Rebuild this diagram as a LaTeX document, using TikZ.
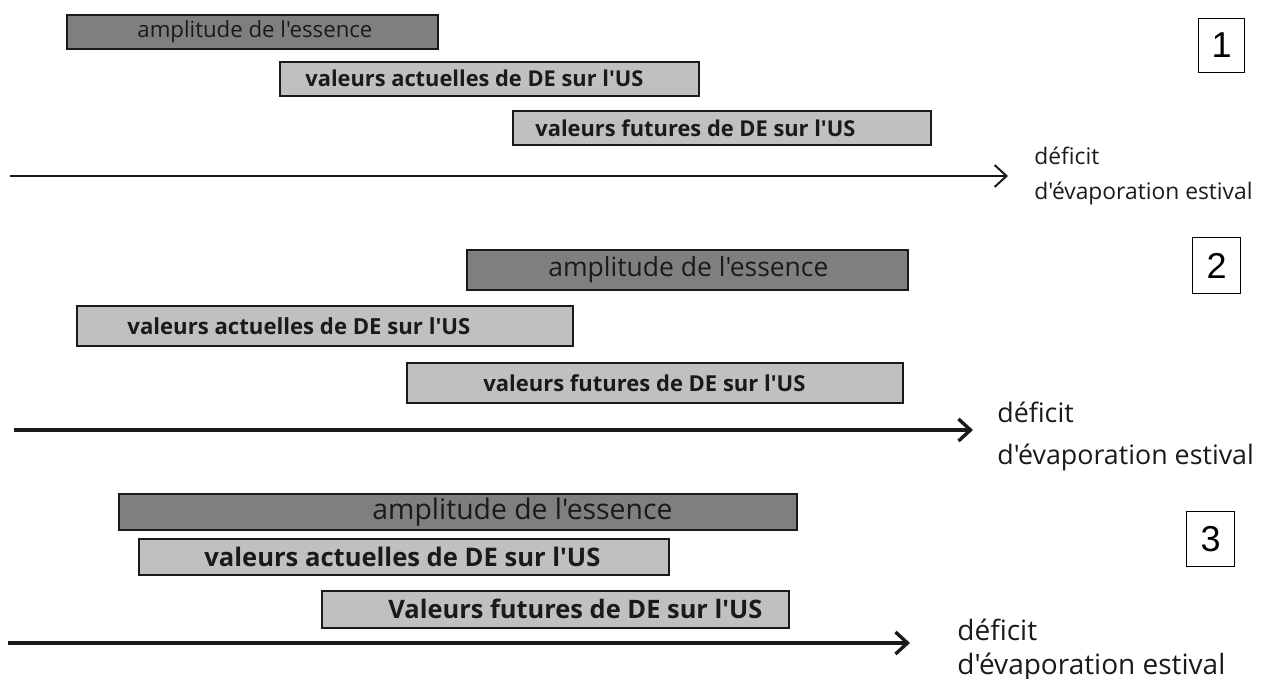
\documentclass[tikz,border=0pt]{standalone}
\usepackage{fontspec}
\newfontfamily\osans{Open Sans}
\newfontfamily\numfont{Liberation Sans}
\usetikzlibrary{arrows.meta}
\definecolor{darkfill}{HTML}{7F7F7F}
\definecolor{lightfill}{HTML}{C0C0C0}
\definecolor{ink}{HTML}{1A1A1A}
\newlength\fitlen
\newcommand{\fitw}[2]{\pgfmathsetlength\fitlen{#1*0.5pt}\resizebox{\fitlen}{!}{#2}}
% box: name, style, x1, y1, x2, y2 (pixels)
\newcommand{\mybox}[6]{\node[#2, minimum width={(#5-#3)*0.5pt}, minimum height={(#6-#4)*0.5pt}] (#1) at (#3,#4) {};}
% text in box: name, box, offset px, width px, font, text
\newcommand{\btxt}[6]{\node[boxtxt] (#1) at ([xshift={#3*0.5pt}]#2.west) {\fitw{#4}{#5#6}};}
\tikzset{
  darkbox/.style={draw=ink, line width=0.8pt, fill=darkfill, inner sep=0pt, anchor=north west},
  lightbox/.style={draw=ink, line width=0.8pt, fill=lightfill, inner sep=0pt, anchor=north west},
  boxtxt/.style={inner sep=0pt, anchor=west, text=ink, font=\osans},
  numbox/.style={draw=black, line width=0.5pt, fill=white, inner sep=0pt, anchor=north west, font=\numfont\fontsize{18pt}{20pt}\selectfont},
  lbl/.style={inner sep=0pt, anchor=west, align=left, text=ink},
  axisthin/.style={draw=ink, line width=1pt, -{Straight Barb[length=6pt,width=11pt,line width=1pt]}},
  axisthick/.style={draw=ink, line width=1.7pt, -{Straight Barb[length=6pt,width=11pt,line width=1.7pt]}},
}
\begin{document}
\begin{tikzpicture}[x=0.5pt,y=-0.5pt]
\useasboundingbox (0,0) rectangle (1268,679);
% ---------- panel 1
\mybox{pa1}{darkbox}{66}{14}{437}{48}
\mybox{pb1}{lightbox}{279}{61}{698}{95}
\mybox{pc1}{lightbox}{512}{110}{930}{144}
\btxt{ta1}{pa1}{71}{235}{}{amplitude de l'essence}
\btxt{tb1}{pb1}{26}{338}{\bfseries}{valeurs actuelles de DE sur l'US}
\btxt{tc1}{pc1}{23}{320}{\bfseries}{valeurs futures de DE sur l'US}
\node[numbox, minimum width=23pt, minimum height=27pt] (n1) at (1198,18) {1};
\coordinate (s1) at (10,176);
\coordinate (e1) at (1008,176);
\draw[axisthin] (s1) -- (e1);
\node[lbl, font=\osans\fontsize{11.4pt}{17.5pt}\selectfont] (l1) at (1034,176) {déficit\\d'évaporation estival};
% ---------- panel 2
\mybox{pa2}{darkbox}{466}{249}{907}{289}
\mybox{pb2}{lightbox}{76}{305}{572}{345}
\mybox{pc2}{lightbox}{406}{362}{902}{402}
\btxt{ta2}{pa2}{82}{280}{}{amplitude de l'essence}
\btxt{tb2}{pb2}{51}{343}{\bfseries}{valeurs actuelles de DE sur l'US}
\btxt{tc2}{pc2}{77}{322}{\bfseries}{valeurs futures de DE sur l'US}
\node[numbox, minimum width=24pt, minimum height=28pt] (n2) at (1192,237) {2};
\coordinate (s2) at (14,430);
\coordinate (e2) at (973,430);
\draw[axisthick] (s2) -- (e2);
\node[lbl, font=\osans\fontsize{13.4pt}{21pt}\selectfont] (l2) at (997,436) {déficit\\d'évaporation estival};
% ---------- panel 3
\mybox{pa3}{darkbox}{118}{493}{796}{529}
\mybox{pb3}{lightbox}{138}{538}{668}{574}
\mybox{pc3}{lightbox}{321}{590}{788}{627}
\btxt{ta3}{pa3}{254}{300}{}{amplitude de l'essence}
\btxt{tb3}{pb3}{66}{396}{\bfseries}{valeurs actuelles de DE sur l'US}
\btxt{tc3}{pc3}{67}{374}{\bfseries}{Valeurs futures de DE sur l'US}
\node[numbox, minimum width=24pt, minimum height=27.5pt] (n3) at (1186,511) {3};
\coordinate (s3) at (8,643);
\coordinate (e3) at (910,643);
\draw[axisthick] (s3) -- (e3);
\node[lbl, font=\osans\fontsize{14pt}{17pt}\selectfont] (l3) at (957,650) {déficit\\d'évaporation estival};
\end{tikzpicture}
\end{document}
